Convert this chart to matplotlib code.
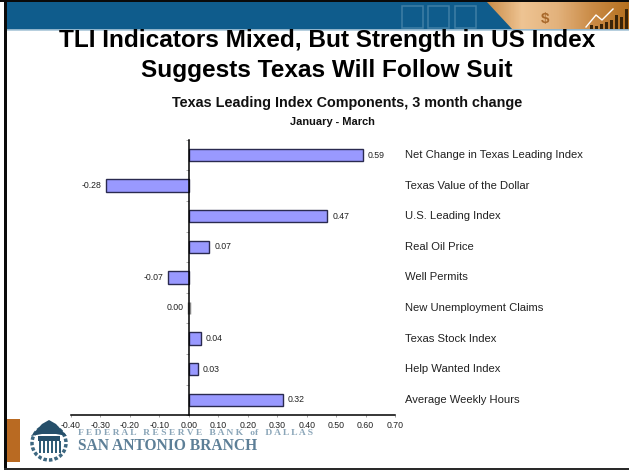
import matplotlib
matplotlib.use('Agg')
import matplotlib.pyplot as plt
import numpy as np
from matplotlib.patches import Rectangle, Polygon, Circle

# Chart data
categories = ['Net Change in Texas Leading Index', 'Texas Value of the Dollar',
              'U.S. Leading Index', 'Real Oil Price', 'Well Permits',
              'New Unemployment Claims', 'Texas Stock Index',
              'Help Wanted Index', 'Average Weekly Hours']
values = [0.59, -0.28, 0.47, 0.07, -0.07, 0.00, 0.04, 0.03, 0.32]
xticks = [-0.40, -0.30, -0.20, -0.10, 0.00, 0.10, 0.20, 0.30, 0.40, 0.50, 0.60, 0.70]

W, H = 629, 471
plt.rcParams['font.family'] = ['Liberation Sans', 'DejaVu Sans']
fig = plt.figure(figsize=(W / 100, H / 100), dpi=100)

# Background layer in pixel coordinates
bg = fig.add_axes([0, 0, 1, 1])
bg.axis('off')

# Banner
bg.add_patch(Rectangle((5, 1), W - 5, 28.5, color='#0f5c8c', lw=0))
bg.plot([5, W], [30, 30], color='#a9c6d8', lw=1.2)
grad = np.linspace(0, 1, 200).reshape(1, -1)
cmap = matplotlib.colors.LinearSegmentedColormap.from_list(
    'b', ['#c98a45', '#eec493', '#e3b27c', '#c98a45', '#b5701f'])
im = bg.imshow(grad, extent=[486, W, 29.5, 1], cmap=cmap, aspect='auto', zorder=1)
im.set_clip_path(Polygon([(486, 1), (W, 1), (W, 29.5), (513, 29.5)],
                         transform=bg.transData))
bg.set_xlim(0, W)
bg.set_ylim(H, 0)
for x0 in [402, 428, 455]:
    bg.add_patch(Rectangle((x0, 6), 21, 22, fill=False, ec='#3f7ea6', lw=1.1, zorder=2))
bg.text(545, 19, '$', fontsize=11, color='#a8682a', ha='center', va='center',
        fontweight='bold', zorder=2)
bg.plot([586, 596, 602, 613], [27, 15, 20, 9], color='white', lw=1, zorder=2)
for x0, h in zip([590, 595, 600, 605, 610, 615, 620, 625],
                 [4, 3, 5, 7, 9, 14, 12, 20]):
    bg.add_patch(Rectangle((x0, 29 - h), 2.5, h, color='#3a2408', lw=0, zorder=3))

# Slide frame
bg.add_patch(Rectangle((4, 0), 3, H - 2, color='#0a0a0a', lw=0, zorder=5))
bg.add_patch(Rectangle((0, 0), W, 1.5, color='#0a0a0a', lw=0, zorder=5))
bg.add_patch(Rectangle((4, H - 3.5), W - 4, 2.5, color='#2a2a2a', lw=0, zorder=5))

# Titles
bg.text(327, 41, 'TLI Indicators Mixed, But Strength in US Index', fontsize=17.6,
        fontweight='bold', ha='center', va='center', color='black', zorder=6)
bg.text(327, 71, 'Suggests Texas Will Follow Suit', fontsize=17.6,
        fontweight='bold', ha='center', va='center', color='black', zorder=6)
bg.text(347, 103, 'Texas Leading Index Components, 3 month change', fontsize=10.4,
        fontweight='bold', ha='center', va='center', color='#111111')
bg.text(332, 122, 'January - March', fontsize=7.9,
        fontweight='bold', ha='center', va='center', color='#111111')

# Footer logo
bg.add_patch(Rectangle((7, 419), 13, 43, color='#b96a22', lw=0))
bg.add_patch(Circle((49, 443), 17, fill=False, ec='#3d6780', lw=2.5, ls=(0, (1, 0.6))))
bg.add_patch(Polygon([(31, 436), (42, 424), (49, 420), (56, 424), (67, 436), (56, 434), (42, 434)],
                     color='#264f6a', lw=0))
bg.add_patch(Rectangle((38, 436), 22, 5, color='#264f6a', lw=0))
for x0 in range(39, 60, 4):
    bg.add_patch(Rectangle((x0, 441), 2, 12, color='#2f5d78', lw=0))
bg.text(78, 433, 'F E D E R A L   R E S E R V E   B A N K   of   D A L L A S', fontsize=6.8,
        family=['Liberation Serif'], color='#8aa5b8', ha='left', va='center', fontweight='bold')
bg.text(78, 446, 'SAN ANTONIO BRANCH', fontsize=11.2,
        family=['Liberation Serif'], color='#5d7f97', ha='left', va='center', fontweight='bold')

# Bar chart: x -0.40..0.70 over px 71..395, bars centred 155..400
left, right, top, bottom = 71, 395, 139.7, 415.1
ax = fig.add_axes([left / W, 1 - bottom / H, (right - left) / W, (bottom - top) / H])
ax.patch.set_alpha(0)
y = np.arange(len(categories))
bar_edges = ['#888888' if v == 0 else '#2a2a50' for v in values]
bar_widths = [2.5 if v == 0 else 1 for v in values]
ax.barh(y, values, height=0.40, color='#9999ff', edgecolor=bar_edges, linewidth=bar_widths)
ax.set_xlim(-0.40, 0.70)
ax.set_ylim(len(categories) - 0.5, -0.5)

for s in ['top', 'right']:
    ax.spines[s].set_visible(False)
ax.spines['left'].set_position(('data', 0))
ax.spines['left'].set_linewidth(1.1)
ax.spines['bottom'].set_linewidth(1.1)
ax.set_xticks(xticks)
ax.set_xticklabels([f'{v:.2f}' for v in xticks], fontsize=6.3, color='#222222')
ax.tick_params(axis='x', length=1.5, width=0.5, pad=2.5, color='#777777')
ax.set_yticks(np.arange(len(categories) + 1) - 0.5)
ax.set_yticklabels([])
ax.tick_params(axis='y', length=2, width=0.5, color='#888888')

# Value labels and category names
for i, v in enumerate(values):
    if v > 0:
        ax.annotate(f'{v:.2f}', (v, i), xytext=(3.6, 0), textcoords='offset points',
                    fontsize=6.3, va='center', ha='left', color='#222222')
    else:
        ax.annotate(f'{v:.2f}', (v, i), xytext=(-3.6, 0), textcoords='offset points',
                    fontsize=6.3, va='center', ha='right', color='#222222')
    ax.annotate(categories[i], (0.70, i), xytext=(7.5, 0), textcoords='offset points',
                annotation_clip=False, fontsize=8.1, va='center', ha='left', color='#222222')

fig.savefig('out.png', dpi=100)
